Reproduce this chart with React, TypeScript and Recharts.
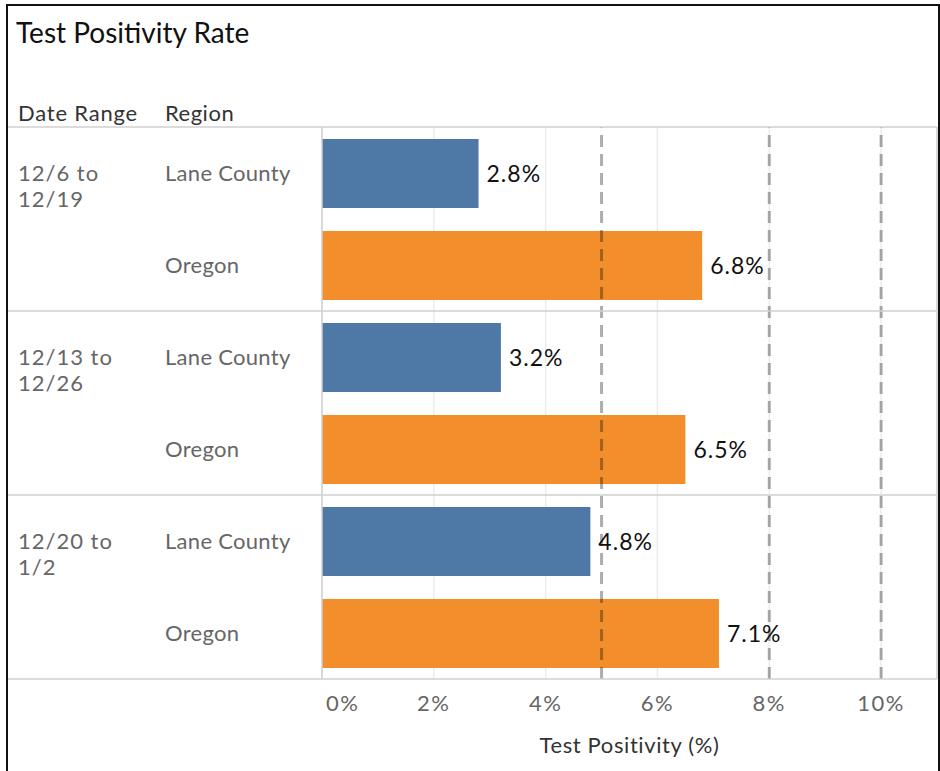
import { Bar, BarChart, CartesianGrid, Cell, LabelList, ReferenceLine, XAxis, YAxis } from 'recharts';

const dateRanges = [['12/6 to', '12/19'], ['12/13 to', '12/26'], ['12/20 to', '1/2']];
const regions = ['Lane County', 'Oregon'];
const laneCounty = [2.8, 3.2, 4.8];
const oregon = [6.8, 6.5, 7.1];
const xTicks = [0, 2, 4, 6, 8, 10];
const thresholds = [5, 8, 10];
const regionColors = ['#4e79a7', '#f28e2b'];

const rows = dateRanges.flatMap((d, i) => [
  { key: `${i}-lane`, date: d, region: regions[0], value: laneCounty[i] },
  { key: `${i}-or`, date: d, region: regions[1], value: oregon[i] },
]);

const W = 930;
const H = 765;
const MARGIN = { top: 121, right: 1, bottom: 0, left: 0 };
const X_AXIS_H = 92;
const BAND = (H - MARGIN.top - MARGIN.bottom - X_AXIS_H) / rows.length;
const FONT = 'Lato, sans-serif';
const RULE = '#d0d0d0';

function RowTick(props: any) {
  const { y, index } = props;
  const row = rows[index];
  if (!row) return null;
  const isLane = index % 2 === 0;
  return (
    <g>
      {index === 0 && (
        <line x1={0} x2={W - MARGIN.right} y1={y - BAND / 2} y2={y - BAND / 2} stroke={RULE} strokeWidth={1.5} />
      )}
      {!isLane && (
        <line x1={0} x2={W - MARGIN.right} y1={y + BAND / 2} y2={y + BAND / 2} stroke={RULE} strokeWidth={1.5} />
      )}
      {isLane && (
        <text x={10} y={y} dy={8} fill="#666" fontSize={22} fontFamily={FONT} letterSpacing={1}>
          <tspan x={10}>{row.date[0]}</tspan>
          <tspan x={10} dy={26}>{row.date[1]}</tspan>
        </text>
      )}
      <text x={157} y={y} dy={8} fill="#666" fontSize={22} fontFamily={FONT} letterSpacing={0.3}>
        {row.region}
      </text>
    </g>
  );
}

function PctTick(props: any) {
  const { x, y, payload, index } = props;
  const first = index === 0;
  return (
    <text
      x={first ? x + 4 : x}
      y={y}
      dy="0.71em"
      textAnchor={first ? 'start' : 'middle'}
      fill="#666"
      fontSize={22}
      fontFamily={FONT}
      letterSpacing={1.5}
    >
      {`${payload.value}%`}
    </text>
  );
}

export default function App() {
  return (
    <div style={{ position: 'absolute', left: 0, top: 0, width: 940, height: 771, overflow: 'hidden', background: '#fff' }}>
      <div
        style={{
          position: 'absolute',
          left: 6,
          top: 4,
          width: W,
          height: 800,
          border: '2px solid #111',
          fontFamily: FONT,
        }}
      >
        <div style={{ position: 'absolute', left: 8, top: 12, fontSize: 28, lineHeight: 1, color: '#111', whiteSpace: 'nowrap' }}>
          Test Positivity Rate
        </div>
        <div style={{ position: 'absolute', left: 10, top: 96, fontSize: 22, lineHeight: 1, color: '#333', whiteSpace: 'nowrap', letterSpacing: 0.8 }}>
          Date Range
        </div>
        <div style={{ position: 'absolute', left: 157, top: 96, fontSize: 22, lineHeight: 1, color: '#333', whiteSpace: 'nowrap', letterSpacing: 0.5 }}>
          Region
        </div>
        <BarChart
          width={W}
          height={H}
          data={rows}
          layout="vertical"
          margin={MARGIN}
          barSize={69}
          style={{ position: 'absolute', left: 0, top: 0 }}
        >
          <CartesianGrid horizontal={false} stroke="#ececec" strokeWidth={1.5} />
          <XAxis
            type="number"
            domain={[0, 11]}
            ticks={xTicks}
            axisLine={false}
            tickLine={false}
            tickSize={0}
            tickMargin={16}
            height={X_AXIS_H}
            tick={(p: any) => <PctTick {...p} />}
            label={{
              value: 'Test Positivity (%)',
              position: 'insideBottom',
              offset: 18,
              fill: '#333',
              fontSize: 22,
              fontFamily: FONT,
              letterSpacing: 0.6,
            }}
          />
          <YAxis
            type="category"
            dataKey="key"
            width={314}
            axisLine={{ stroke: RULE, strokeWidth: 1.5 }}
            tickLine={false}
            tick={(p: any) => <RowTick {...p} />}
            interval={0}
          />
          <Bar dataKey="value" isAnimationActive={false}>
            {rows.map((r, i) => (
              <Cell key={r.key} fill={regionColors[i % 2]} />
            ))}
            <LabelList
              dataKey="value"
              position="right"
              offset={8}
              formatter={(v: any) => `${v}%`}
              fill="#111"
              fontSize={23}
              fontFamily={FONT}
              letterSpacing={1}
            />
          </Bar>
          {thresholds.map((t) => (
            <ReferenceLine
              key={t}
              x={t}
              stroke="#000"
              strokeOpacity={0.32}
              strokeWidth={3}
              strokeDasharray="12 7"
            />
          ))}
          <ReferenceLine x={11} stroke={RULE} strokeWidth={1.5} />
        </BarChart>
      </div>
    </div>
  );
}
